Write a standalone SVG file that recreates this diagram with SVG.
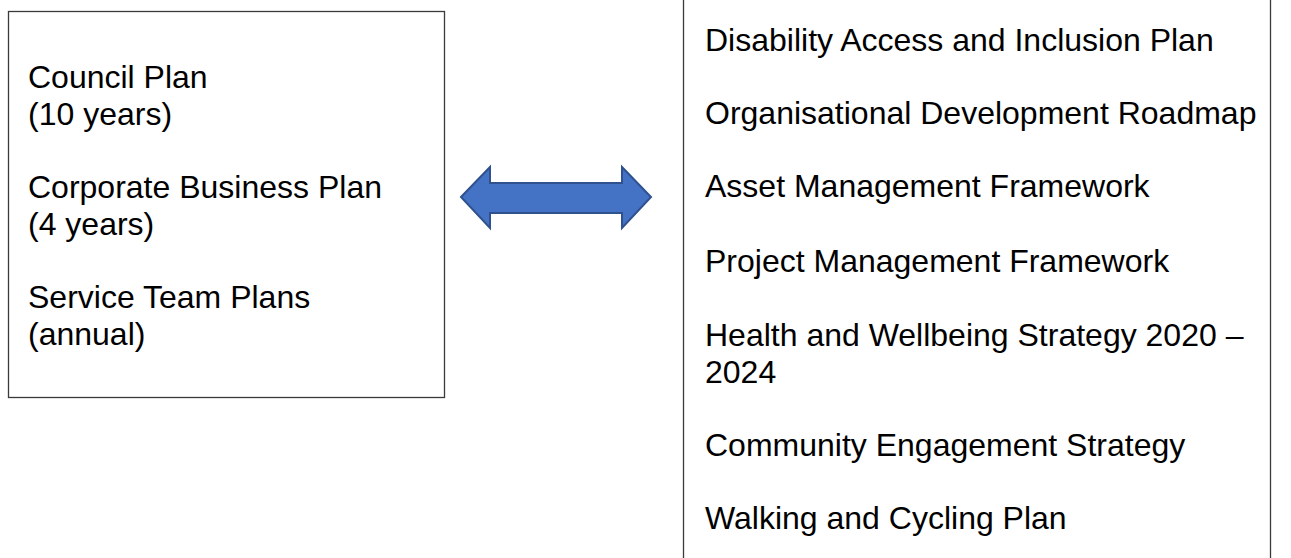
<svg xmlns="http://www.w3.org/2000/svg" width="1291" height="558" viewBox="0 0 1291 558">
<style>
.t{font-family:"Liberation Sans",Arial,sans-serif;font-size:32px;fill:#000}
.box{fill:#fff;stroke:#3a3a3a;stroke-width:1.3}
</style>
<rect width="1291" height="558" fill="#fff"/>
<g id="left-box">
<rect class="box" x="8.5" y="11.5" width="436" height="386"/>
<text class="t" x="28" y="88">Council Plan</text>
<text class="t" x="28" y="124.5">(10 years)</text>
<text class="t" x="28" y="198">Corporate Business Plan</text>
<text class="t" x="28" y="234.5">(4 years)</text>
<text class="t" x="28" y="308">Service Team Plans</text>
<text class="t" x="28" y="344.5">(annual)</text>
</g>
<g id="connectors">
<path d="M461,197 L490,167 L490,183 L622,183 L622,167 L651,197 L622,228 L622,213 L490,213 L490,228 Z" fill="#4472C4" stroke="#2F528F" stroke-width="2" stroke-linejoin="miter"/>
</g>
<g id="right-box">
<rect class="box" x="683.5" y="-5" width="587" height="570"/>
<text class="t" x="705" y="51">Disability Access and Inclusion Plan</text>
<text class="t" x="705" y="124">Organisational Development Roadmap</text>
<text class="t" x="705" y="197">Asset Management Framework</text>
<text class="t" x="705" y="272">Project Management Framework</text>
<text class="t" x="705" y="346">Health and Wellbeing Strategy 2020 –</text>
<text class="t" x="705" y="382.5">2024</text>
<text class="t" x="705" y="456">Community Engagement Strategy</text>
<text class="t" x="705" y="529">Walking and Cycling Plan</text>
</g>
</svg>
